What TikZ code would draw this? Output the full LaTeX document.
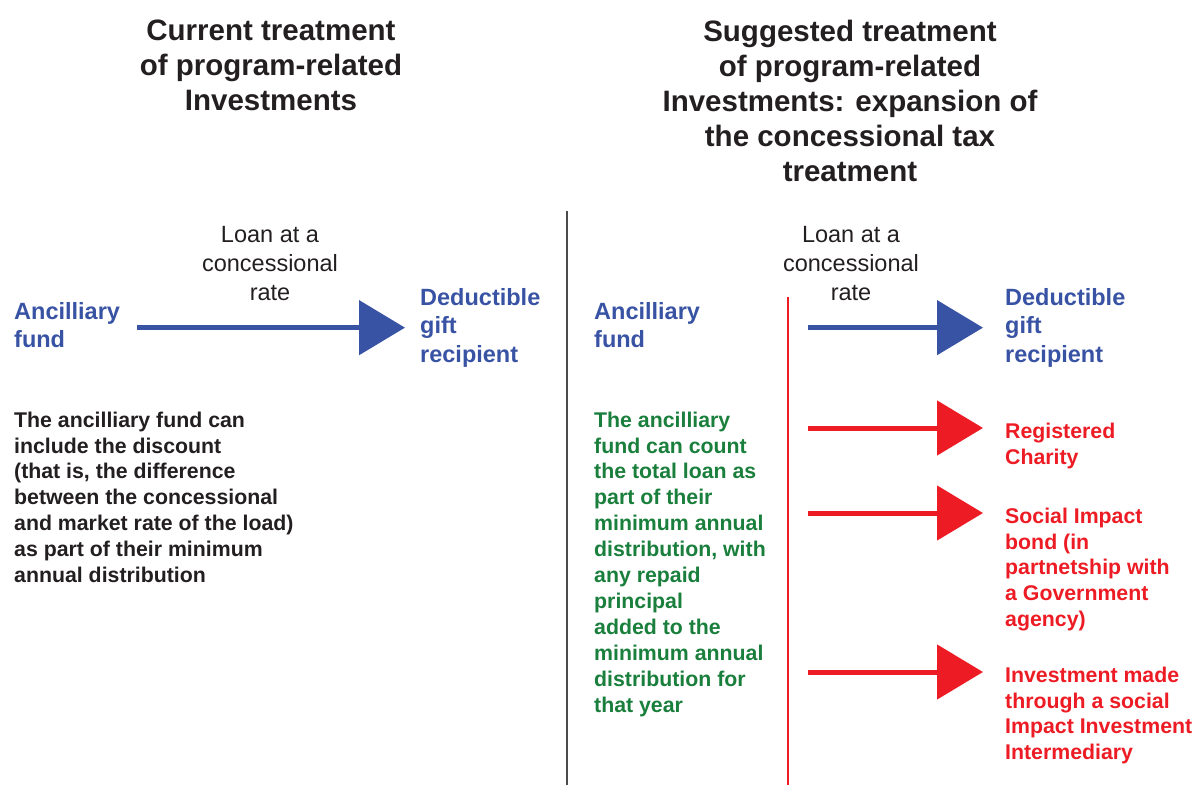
\documentclass[tikz,border=0pt]{standalone}
\usepackage{fontspec}
\setmainfont{Liberation Sans}
\usetikzlibrary{arrows.meta}
\definecolor{fundblue}{HTML}{3953A4}
\definecolor{givered}{HTML}{ED1C24}
\definecolor{notegreen}{HTML}{1A7F3C}
\definecolor{inkblack}{HTML}{231F20}

\begin{document}
\begin{tikzpicture}[x=1pt,y=-1pt,
		head/.style={align=center,inner sep=0,anchor=north,text=inkblack,font=\fontsize{29.5}{35}\selectfont\bfseries},
		loan/.style={align=center,inner sep=0,anchor=north,text=inkblack,font=\fontsize{23.5}{29}\selectfont},
		party/.style={align=left,inner sep=0,anchor=north west,text=fundblue,font=\fontsize{23.5}{28.5}\selectfont\bfseries},
		note/.style={align=left,inner sep=0,anchor=north west,font=\fontsize{21.3}{25.9}\selectfont\bfseries},
		flow/.style={line width=5pt,-{Triangle[length=46pt,width=54pt]}}]
		\useasboundingbox (0,0) rectangle (1203,785);

		% current treatment
		\node[head] (headL) at (271,19.5) {Current treatment\\of program-related\\Investments};
		\node[loan] (loanL) at (270,226) {Loan at a\\concessional\\rate};
		\node[party] (fundL) at (14,302) {Ancilliary\\fund};
		\node[party] (dgrL) at (420,288) {Deductible\\gift\\recipient};
		\draw[flow,fundblue,shorten <=17pt,shorten >=15pt] (dgrL.west -| fundL.east) -- (dgrL.west);
		\node[note,text=inkblack] (noteL) at (14,411.5) {The ancilliary fund can\\include the discount\\(that is, the difference\\between the concessional\\and market rate of the load)\\as part of their minimum\\annual distribution};

		\draw[black!70,line width=2pt] (567,211) -- (567,785);

		% suggested treatment
		\node[head] (headR) at (850,19.5) {Suggested treatment\\of program-related\\Investments: expansion of\\the concessional tax\\treatment};
		\node[loan] (loanR) at (851,226) {Loan at a\\concessional\\rate};
		\node[party] (fundR) at (594,302) {Ancilliary\\fund};
		\node[party] (dgrR) at (1005,288) {Deductible\\gift\\recipient};
		\node[note,text=notegreen] (noteR) at (594,411.5) {The ancilliary\\fund can count\\the total loan as\\part of their\\minimum annual\\distribution, with\\any repaid\\principal\\added to the\\minimum annual\\distribution for\\that year};

		\coordinate (rtop) at (788,297);
		\draw[givered,line width=1.5pt] (rtop) -- (788,785);
		\draw[flow,fundblue,shorten <=20pt,shorten >=22pt] (dgrR.west -| rtop) -- (dgrR.west);

		\node[note,text=givered] (charity) at (1005,422.5) {Registered\\Charity};
		\node[note,text=givered] (bond) at (1005,507.5) {Social Impact\\bond (in\\partnetship with\\a Government\\agency)};
		\node[note,text=givered] (sii) at (1005,666.5) {Investment made\\through a social\\Impact Investment\\Intermediary};
		\foreach \n in {charity,bond,sii}{
			\coordinate (tip\n) at ([yshift=-5.5pt]\n.north west);
			\draw[flow,givered,shorten <=20pt,shorten >=22pt] (tip\n -| rtop) -- (tip\n);
		}
	\end{tikzpicture}
\end{document}
